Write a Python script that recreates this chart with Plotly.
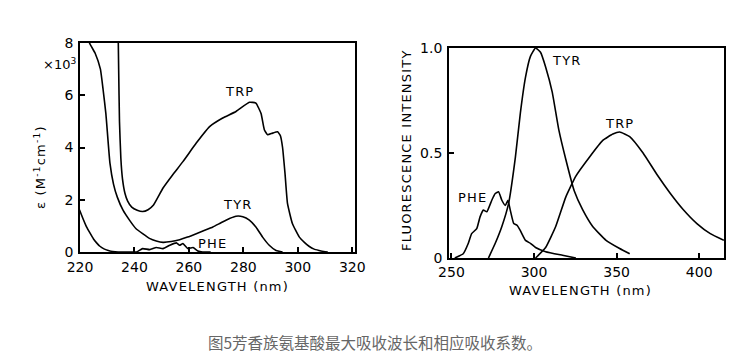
import plotly.graph_objects as go

# ---------------- Absorption (left) ----------------
trp_abs_x = [234.0, 234.2, 234.5, 235.0, 235.6, 236.5, 237.5, 239, 241, 243, 245, 247, 250.5, 254, 257.8,
             262.7, 267.6, 272.4, 277.3, 282.2, 284.6, 286.5, 287.7, 288.9, 290.7, 292.6, 293.6,
             294.4, 295.3, 296.2, 298, 300.5, 302.5, 304.1, 306, 307.8, 309.5, 311]
trp_abs_y = [8.5, 7.0, 5.0, 3.6, 2.8, 2.25, 1.95, 1.72, 1.6, 1.55, 1.62, 1.8, 2.45, 2.95, 3.46,
             4.17, 4.8, 5.13, 5.38, 5.73, 5.7, 5.3, 4.68, 4.49, 4.55, 4.6, 4.45,
             4.0, 3.0, 1.86, 1.09, 0.58, 0.36, 0.22, 0.11, 0.06, 0.02, 0.0]

tyr_abs_x = [222.8, 223.5, 225.6, 227.5, 228.5, 229.5, 231, 232.3, 233.7, 235.8, 238.3, 240.5, 243, 245.5,
             248, 250.5, 253.5, 256.6, 259.5, 262.7, 265.8, 268.8, 271.8, 274.9, 277.3, 279.8, 282.2,
             284.6, 287, 289.5, 292, 294.4]
tyr_abs_y = [8.5, 8.0, 7.6, 7.0, 6.2, 5.3, 3.4, 2.6, 2.1, 1.6, 1.2, 0.9, 0.7, 0.52,
             0.42, 0.37, 0.4, 0.47, 0.57, 0.7, 0.83, 0.96, 1.12, 1.28, 1.37, 1.35, 1.22,
             0.96, 0.58, 0.26, 0.06, 0.0]

phe_abs_x = [219.8, 221, 222.4, 223.7, 224.9, 226.1, 227.3, 228.8, 230.4, 232, 234, 237, 240.7, 243,
             245.6, 248, 250.5, 253, 255.4, 256.6, 257.8, 259.6, 261.5, 263.3, 265, 268]
phe_abs_y = [1.62, 1.3, 0.96, 0.72, 0.51, 0.35, 0.22, 0.12, 0.06, 0.02, 0.0, 0.0, 0.0, 0.13,
             0.09, 0.17, 0.13, 0.26, 0.35, 0.26, 0.32, 0.13, 0.17, 0.04, 0.0, 0.0]

# ---------------- Fluorescence (right) ----------------
tyr_fl_x = [272.4, 276.5, 280.5, 284.6, 288.7, 291.7, 294.8, 297.8, 300.9, 303.9, 307, 311, 315,
            319.2, 324.3, 329.4, 335.5, 343.6, 351.8, 357.9]
tyr_fl_y = [0.0, 0.07, 0.15, 0.26, 0.48, 0.69, 0.86, 0.96, 1.0, 0.98, 0.91, 0.79, 0.61,
            0.47, 0.32, 0.23, 0.15, 0.084, 0.045, 0.02]

trp_fl_x = [300.9, 307, 313.1, 319.2, 325.3, 333.5, 341.6, 347.7, 351.8, 357.9, 366, 374.2, 382.3,
            390.4, 398.6, 406.7, 414.9]
trp_fl_y = [0.0, 0.05, 0.15, 0.29, 0.39, 0.48, 0.56, 0.59, 0.60, 0.578, 0.50, 0.40, 0.31,
            0.23, 0.164, 0.116, 0.084]

phe_fl_x = [252, 257.1, 260.2, 262.2, 265.3, 267.3, 269.3, 271.4, 274.4, 276.5, 278.5, 280.5,
            282.6, 284.2, 285.6, 287.7, 289.7, 291.7, 294.8, 297.8, 300.9, 307, 317.2, 325.3]
phe_fl_y = [0.0, 0.02, 0.07, 0.116, 0.14, 0.196, 0.228, 0.22, 0.275, 0.307, 0.315, 0.275,
            0.25, 0.275, 0.228, 0.164, 0.156, 0.13, 0.084, 0.07, 0.05, 0.03, 0.013, 0.0]

abs_xticks = [220, 240, 260, 280, 300, 320]
abs_yticks = [0, 2, 4, 6, 8]
fl_xticks = [250, 300, 350, 400]
fl_yticks = [0, 0.5, 1.0]
fl_yticktext = ["0", "0.5", "1.0"]

caption = "图5芳香族氨基酸最大吸收波长和相应吸收系数。"

W, H = 743, 364
OFF = 8  # page body margin offset
FONT = "DejaVu Sans"
LS = "letter-spacing:1.2px"

def px_x(x):
    return (x - OFF) / W

def px_y(y):
    return 1 - (y - OFF) / H

def sp(t):
    return f'<span style="{LS}">{t}</span>'

fig = go.Figure()
line = dict(color="black", width=1.6, shape="spline", smoothing=0.4)

for xs, ys in [(trp_abs_x, trp_abs_y), (tyr_abs_x, tyr_abs_y), (phe_abs_x, phe_abs_y)]:
    fig.add_trace(go.Scatter(x=xs, y=ys, mode="lines", line=line, xaxis="x", yaxis="y",
                             showlegend=False, hoverinfo="skip"))
for xs, ys in [(tyr_fl_x, tyr_fl_y), (trp_fl_x, trp_fl_y), (phe_fl_x, phe_fl_y)]:
    fig.add_trace(go.Scatter(x=xs, y=ys, mode="lines", line=line, xaxis="x2", yaxis="y2",
                             showlegend=False, hoverinfo="skip"))

axis_common = dict(showline=True, mirror=True, linecolor="black", linewidth=1.8,
                   ticks="inside", ticklen=5, tickwidth=1.5, tickcolor="black",
                   showgrid=False, zeroline=False, automargin=False,
                   tickfont=dict(family=FONT, size=14, color="black"))

fig.update_layout(
    width=W, height=H,
    margin=dict(l=0, r=0, t=0, b=0, pad=0, autoexpand=False),
    paper_bgcolor="white", plot_bgcolor="white",
    xaxis=dict(domain=[px_x(80), px_x(355)], range=[220, 321], tickvals=abs_xticks,
               anchor="y", ticklabelstandoff=1, **axis_common),
    yaxis=dict(domain=[px_y(252), px_y(43)], range=[0, 8], tickvals=abs_yticks,
               anchor="x", ticklabelstandoff=2, **axis_common),
    xaxis2=dict(domain=[px_x(449), px_x(724)], range=[248.5, 415], tickvals=fl_xticks,
                anchor="y2", ticklabelstandoff=0, **axis_common),
    yaxis2=dict(domain=[px_y(258), px_y(48)], range=[0, 1.0], tickvals=fl_yticks,
                ticktext=fl_yticktext, anchor="x2", ticklabelstandoff=2, **axis_common),
)

def pann(text, x, y, size=13, angle=0, color="black", family=FONT):
    fig.add_annotation(text=text, x=px_x(x), y=px_y(y), xref="paper", yref="paper",
                       showarrow=False, textangle=angle, xanchor="center", yanchor="middle",
                       font=dict(family=family, size=size, color=color))

def dann(text, x, y, xr, yr, size=13):
    fig.add_annotation(text=sp(text), x=x, y=y, xref=xr, yref=yr, showarrow=False,
                       xanchor="center", yanchor="middle",
                       font=dict(family=FONT, size=size, color="black"))

# curve labels
dann("TRP", 278.5, 6.15, "x", "y")
dann("TYR", 278.0, 1.8, "x", "y")
dann("PHE", 268.5, 0.32, "x", "y")
dann("TYR", 320, 0.94, "x2", "y2")
dann("TRP", 352, 0.64, "x2", "y2")
dann("PHE", 263, 0.29, "x2", "y2")

# axis titles
pann(sp("WAVELENGTH (nm)"), 217, 286, size=13)
pann(sp("WAVELENGTH (nm)"), 580, 290, size=13)
pann(sp("ε (M<sup>-1</sup>cm<sup>-1</sup>)"), 40, 167, size=13, angle=-90)
pann(sp("FLUORESCENCE INTENSITY"), 407, 150, size=13, angle=-90)
pann("×10<sup>3</sup>", 60, 64, size=13)

# caption
pann(caption, 375, 342, size=15.5, color="#666666", family="Noto Sans CJK SC")

fig.write_html("out.html")
